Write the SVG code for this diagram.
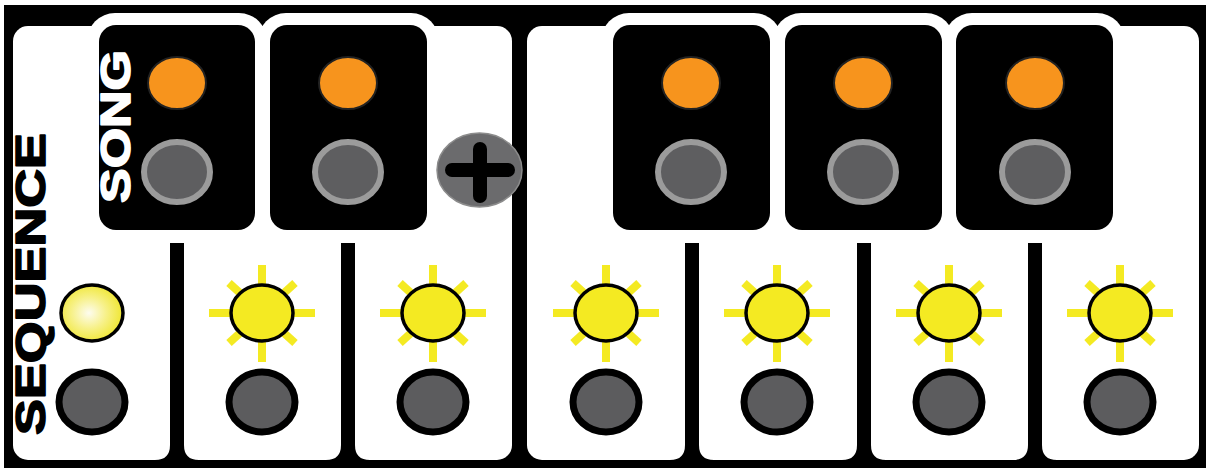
<svg xmlns="http://www.w3.org/2000/svg" width="1206" height="468" viewBox="0 0 1206 468">
  <style>
    .panel { fill: #ffffff; }
    .bump { fill: #ffffff; }
    .box { fill: #000000; }
    .bar { fill: #000000; }
    .orange { fill: #f7941d; stroke: #222222; stroke-width: 2; }
    .songbtn { fill: #5e5e60; stroke: #9b9b9b; stroke-width: 6; }
    .btn { fill: #5c5c5e; stroke: #000000; stroke-width: 7; }
    .ray { stroke: #f4ea22; stroke-width: 8; stroke-linecap: butt; }
    .lamp { fill: #f4ea22; stroke: #000000; stroke-width: 3.5; }
    .label { font-family: "Liberation Sans", Arial, sans-serif; font-weight: bold; font-size: 42px; stroke-width: 1.6; stroke-linejoin: round; }
  </style>
  <defs>
    <radialGradient id="glow" cx="0.45" cy="0.5" r="0.55">
      <stop offset="0" stop-color="#fdfcef"/>
      <stop offset="0.5" stop-color="#f7f18a"/>
      <stop offset="1" stop-color="#efe630"/>
    </radialGradient>
    <g id="sun">
      <line class="ray" x1="0" y1="-48" x2="0" y2="-24"/>
      <line class="ray" x1="0" y1="24" x2="0" y2="49"/>
      <line class="ray" x1="-53" y1="0" x2="-28" y2="0"/>
      <line class="ray" x1="28" y1="0" x2="53" y2="0"/>
      <line class="ray" x1="-33" y1="-30" x2="-22" y2="-20"/>
      <line class="ray" x1="33" y1="-30" x2="22" y2="-20"/>
      <line class="ray" x1="-33" y1="30" x2="-22" y2="20"/>
      <line class="ray" x1="33" y1="30" x2="22" y2="20"/>
      <ellipse class="lamp" cx="0" cy="0" rx="31" ry="28"/>
    </g>
    <ellipse id="button" class="btn" cx="0" cy="0" rx="33" ry="30"/>
    <g id="songctl">
      <ellipse class="orange" cx="0" cy="0" rx="29" ry="26"/>
      <ellipse class="songbtn" cx="0" cy="89" rx="33" ry="30"/>
    </g>
  </defs>

  <rect x="0" y="0" width="1206" height="468" fill="#000000"/>
  <rect x="0" y="0" width="1206" height="5" fill="#ffffff"/>
  <rect x="0" y="0" width="4" height="468" fill="#ffffff"/>

  <g id="left-panel">
    <rect class="panel" x="13" y="26" width="499" height="434" rx="15"/>
    <rect class="bump" x="87" y="13" width="180" height="230" rx="28"/>
    <rect class="bump" x="258" y="13" width="181" height="230" rx="28"/>
  </g>
  <g id="right-panel">
    <rect class="panel" x="527" y="26" width="672" height="434" rx="15"/>
    <rect class="bump" x="601" y="13" width="181" height="230" rx="28"/>
    <rect class="bump" x="773" y="13" width="181" height="230" rx="28"/>
    <rect class="bump" x="944" y="13" width="181" height="230" rx="28"/>
  </g>

  <g id="dividers">
    <path class="bar" d="M155,460 Q170,460 170,445 L170,243 L184,243 L184,445 Q184,460 199,460 Z"/>
    <path class="bar" d="M326,460 Q341,460 341,445 L341,243 L355,243 L355,445 Q355,460 370,460 Z"/>
    <path class="bar" d="M670,460 Q685,460 685,445 L685,243 L699,243 L699,445 Q699,460 714,460 Z"/>
    <path class="bar" d="M842,460 Q857,460 857,445 L857,243 L871,243 L871,445 Q871,460 886,460 Z"/>
    <path class="bar" d="M1013,460 Q1028,460 1028,445 L1028,243 L1042,243 L1042,445 Q1042,460 1057,460 Z"/>
  </g>

  <g id="song-1">
    <rect class="box" x="99" y="25" width="156" height="205" rx="17"/>
    <use href="#songctl" x="177" y="83"/>
    <text class="label" fill="#ffffff" stroke="#ffffff" transform="translate(130,203) rotate(-90)" textLength="153" lengthAdjust="spacingAndGlyphs">SONG</text>
  </g>
  <g id="song-2">
    <rect class="box" x="270" y="25" width="157" height="205" rx="17"/>
    <use href="#songctl" x="348" y="83"/>
  </g>
  <g id="song-3">
    <rect class="box" x="613" y="25" width="157" height="205" rx="17"/>
    <use href="#songctl" x="691" y="83"/>
  </g>
  <g id="song-4">
    <rect class="box" x="785" y="25" width="157" height="205" rx="17"/>
    <use href="#songctl" x="863" y="83"/>
  </g>
  <g id="song-5">
    <rect class="box" x="956" y="25" width="157" height="205" rx="17"/>
    <use href="#songctl" x="1035" y="83"/>
  </g>

  <g id="plus">
    <ellipse cx="479.5" cy="170" rx="42.5" ry="37" fill="#6b6b6d" stroke="#8c8c8c" stroke-width="1.5"/>
    <line x1="452" y1="170" x2="508" y2="170" stroke="#000000" stroke-width="14" stroke-linecap="round"/>
    <line x1="480" y1="149" x2="480" y2="196" stroke="#000000" stroke-width="14" stroke-linecap="round"/>
  </g>

  <g id="sequence-label">
    <text class="label" fill="#000000" stroke="#000000" transform="translate(45,435) rotate(-90)" textLength="302" lengthAdjust="spacingAndGlyphs">SEQUENCE</text>
  </g>

  <g id="step-1">
    <ellipse cx="92" cy="313" rx="31" ry="28" fill="url(#glow)" stroke="#000000" stroke-width="3.5"/>
    <use href="#button" x="92" y="402"/>
  </g>
  <g id="step-2">
    <use href="#sun" x="262" y="313"/>
    <use href="#button" x="262" y="402"/>
  </g>
  <g id="step-3">
    <use href="#sun" x="433" y="313"/>
    <use href="#button" x="433" y="402"/>
  </g>
  <g id="step-4">
    <use href="#sun" x="606" y="313"/>
    <use href="#button" x="606" y="402"/>
  </g>
  <g id="step-5">
    <use href="#sun" x="777" y="313"/>
    <use href="#button" x="777" y="402"/>
  </g>
  <g id="step-6">
    <use href="#sun" x="949" y="313"/>
    <use href="#button" x="949" y="402"/>
  </g>
  <g id="step-7">
    <use href="#sun" x="1120" y="313"/>
    <use href="#button" x="1120" y="402"/>
  </g>
</svg>
